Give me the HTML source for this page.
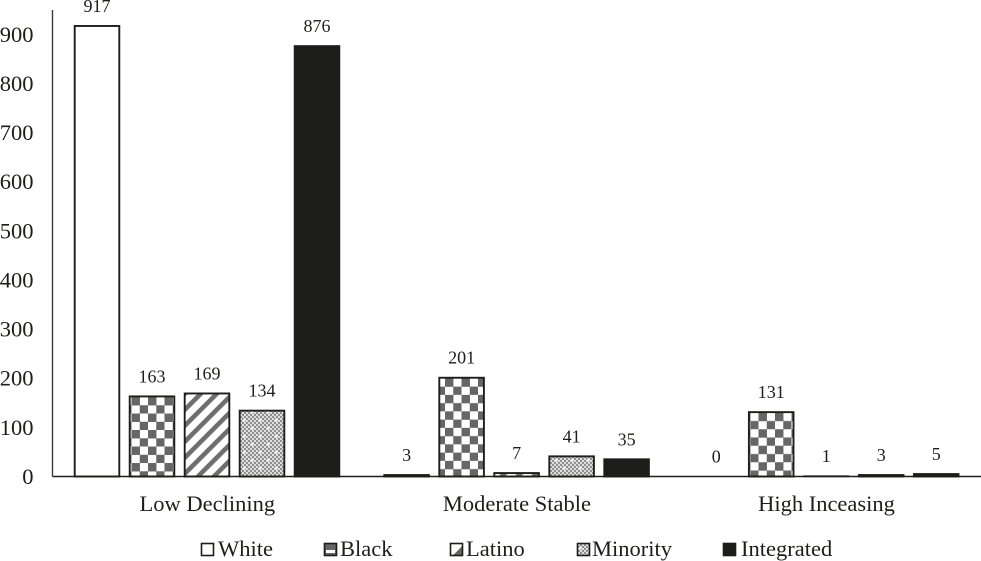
<!DOCTYPE html>
<html>
<head>
<meta charset="utf-8">
<style>
html,body{margin:0;padding:0;background:#fff;width:981px;height:561px;overflow:hidden}
svg{display:block}
text{font-family:"Liberation Serif",serif;fill:#1d1d1b}
</style>
</head>
<body>
<svg id="chart" xmlns="http://www.w3.org/2000/svg" width="981" height="561" viewBox="0 0 981 561">
<defs id="defs">
<pattern id="p-white" patternUnits="userSpaceOnUse" width="8" height="8"><rect width="8" height="8" fill="#fff"/></pattern>
<pattern id="p-latino" patternUnits="userSpaceOnUse" width="11.3" height="11.3" patternTransform="rotate(45)">
<rect width="11.3" height="11.3" fill="#fff"/><rect width="4.6" height="11.3" fill="#6e6e6e"/>
</pattern>
<pattern id="s-black" patternUnits="userSpaceOnUse" width="13" height="13" x="324" y="543">
<rect width="13" height="13" fill="#666"/><rect x="2" y="7" width="9" height="3" fill="#fff"/>
</pattern>
<linearGradient id="s-latino" x1="0" y1="0" x2="1" y2="1">
<stop offset="0.6" stop-color="#fff"/><stop offset="0.6" stop-color="#666"/>
</linearGradient>
</defs>
<g id="plot"></g>
<g id="legend"></g>
</svg>
<script>
var categories = ["Low Declining", "Moderate Stable", "High Inceasing"];
var seriesNames = ["White", "Black", "Latino", "Minority", "Integrated"];
var whiteValues = [917, 3, 0];
var blackValues = [163, 201, 131];
var latinoValues = [169, 7, 1];
var minorityValues = [134, 41, 3];
var integratedValues = [876, 35, 5];
var tickLabels = [0, 100, 200, 300, 400, 500, 600, 700, 800, 900];

var allSeries = [whiteValues, blackValues, latinoValues, minorityValues, integratedValues];
var fills = ["url(#p-white)", "", "url(#p-latino)", "url(#p-minority)", "#1d1d1b"];
var swatchFills = ["#fff", "url(#s-black)", "url(#s-latino)", "url(#p-minority)", "#1d1d1b"];
var legendSwatchX = [201, 324, 450, 577, 723];
var legendTextX = [218, 340, 466, 592, 741];

var NS = "http://www.w3.org/2000/svg";
var plot = document.getElementById("plot");
var legend = document.getElementById("legend");
var defs = document.getElementById("defs");
var axisX = 52.5, baseY = 476.5, pxPerUnit = 0.4913, bandW = 309.6, barW = 44.6, barPitch = 55;
var checkCell = 8.25;

function yScale(v) { return baseY - v * pxPerUnit; }
function xBar(c, s) { return axisX + 22.2 + c * bandW + s * barPitch; }
function make(tag, attrs, parent) {
  var el = document.createElementNS(NS, tag);
  for (var k in attrs) el.setAttribute(k, attrs[k]);
  parent.appendChild(el);
  return el;
}

/* fine minority texture: small checks with sparse white dots */
var minP = make("pattern", {id: "p-minority", patternUnits: "userSpaceOnUse", width: 16, height: 16}, defs);
make("rect", {width: 16, height: 16, fill: "#dedede"}, minP);
for (var i = 0; i < 8; i++) {
  for (var j = 0; j < 8; j++) {
    if ((i + j) % 2 === 0) make("rect", {x: i * 2, y: j * 2, width: 2, height: 2, fill: "#8f8f8f"}, minP);
  }
}
make("rect", {x: 3, y: 3, width: 2.5, height: 2.5, fill: "#fff"}, minP);
make("rect", {x: 11, y: 11, width: 2.5, height: 2.5, fill: "#fff"}, minP);

/* checkerboard: horizontal phase shared, rows start at each bar's top */
function checkerFor(c, top) {
  var id = "p-black-" + c;
  var p = make("pattern", {id: id, patternUnits: "userSpaceOnUse", width: checkCell * 2, height: checkCell * 2, x: 131.5, y: top + 0.6}, defs);
  make("rect", {width: checkCell * 2, height: checkCell * 2, fill: "#fff"}, p);
  make("rect", {width: checkCell + 0.2, height: checkCell + 0.2, fill: "#666"}, p);
  make("rect", {x: checkCell, y: checkCell, width: checkCell, height: checkCell, fill: "#666"}, p);
  return "url(#" + id + ")";
}

tickLabels.forEach(function (t) {
  var el = make("text", {x: 33.5, y: yScale(t) + 7.5, "text-anchor": "end", "font-size": 22.5}, plot);
  
  
  el.textContent = t;
});

allSeries.forEach(function (vals, s) {
  vals.forEach(function (v, c) {
    var x = xBar(c, s), y = yScale(v);
    if (v > 0) {
      var r = make("rect", {
        x: x, y: y, width: barW, height: baseY - y,
        fill: s === 1 ? checkerFor(c, y) : fills[s], stroke: v < 2 ? "#555" : "#1d1d1b", "stroke-width": v < 2 ? 1.5 : 1.9
      }, plot);
      
      
    }
    var lab = make("text", {x: x + barW / 2, y: y - 14, "text-anchor": "middle", "font-size": 18}, plot);
    
    
    lab.textContent = v;
  });
});

var yAxis = make("line", {x1: axisX, y1: 10, x2: axisX, y2: baseY, stroke: "#3a3a3a", "stroke-width": 1.4}, plot);


var xAxis = make("line", {x1: axisX, y1: baseY, x2: 981, y2: baseY, stroke: "#1d1d1b", "stroke-width": 1.6}, plot);



categories.forEach(function (name, c) {
  var el = make("text", {x: axisX + (c + 0.5) * bandW, y: 511, "text-anchor": "middle", "font-size": 22.5}, plot);
  
  
  el.textContent = name;
});

seriesNames.forEach(function (name, s) {
  var sw = make("rect", {x: legendSwatchX[s] + 0.5, y: 543.5, width: 12, height: 12, fill: swatchFills[s], stroke: "#1d1d1b", "stroke-width": 1.6}, legend);
  
  
  var t = make("text", {x: legendTextX[s], y: 556, "font-size": 22.5}, legend);
  
  
  t.textContent = name;
});
</script>
</body>
</html>
